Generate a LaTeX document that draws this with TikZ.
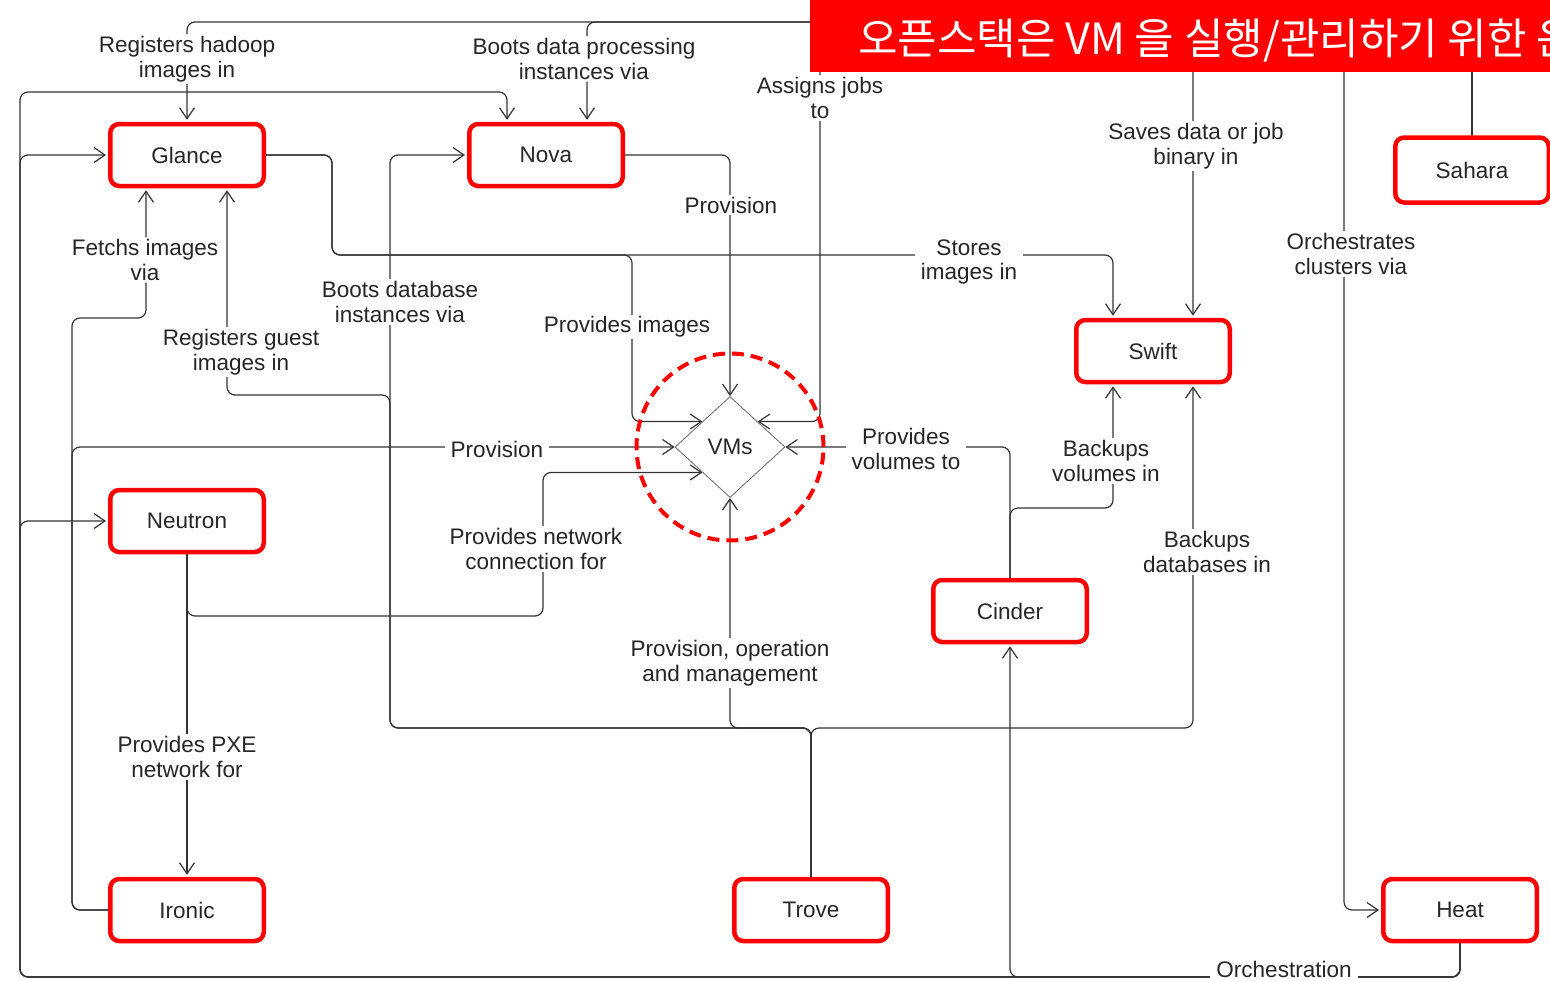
\documentclass[tikz,border=0pt]{standalone}
\usepackage{fontspec}
\setmainfont{Liberation Sans}
\newfontfamily\cjk{Noto Sans CJK KR}
\usetikzlibrary{arrows.meta,shapes.geometric}
\pgfdeclarelayer{bg}
\pgfsetlayers{bg,main}
\begin{document}
\begin{tikzpicture}[x=1pt,y=-1pt,
  box/.style={draw=red, line width=4.5pt, rounded corners=9pt, fill=white,
    minimum width=153.5pt, minimum height=62pt, inner sep=0pt,
    font=\fontsize{22.5}{26}\selectfont, text=black!85},
  conn/.style={draw=black!80, line width=1.2pt, rounded corners=8pt},
  arr/.style={conn, -{Straight Barb[length=11pt,width=15pt]}, shorten >=2pt},
  arrd/.style={conn, -{Straight Barb[length=11pt,width=15pt]}},
  lbl/.style={fill=white, align=center, inner xsep=6pt, inner ysep=2pt,
    font=\fontsize{22.5}{24.5}\selectfont, text=black!85}]
\useasboundingbox (0,0) rectangle (1550,980);

% nodes
\node[box] (glance)  at (187,155) {Glance};
\node[box] (nova)    at (546,155) {Nova};
\node[box] (neutron) at (187,521) {Neutron};
\node[box] (ironic)  at (187,910) {Ironic};
\node[box] (trove)   at (811,910) {Trove};
\node[box] (cinder)  at (1010,611) {Cinder};
\node[box] (swift)   at (1153,351) {Swift};
\node[box, minimum height=65pt] (sahara)  at (1472,170) {Sahara};
\node[box] (heat)    at (1460,910) {Heat};
\node[diamond, draw=black!60, line width=0.8pt, minimum width=110pt,
  minimum height=101pt, inner sep=0pt, font=\fontsize{22.5}{26}\selectfont,
  text=black!85] (vms) at (730,447) {VMs};
\node[circle, draw=red, line width=4pt, dash pattern=on 12pt off 7pt,
  minimum size=187pt, inner sep=0pt] (ring) at (730,447) {};

\begin{pgfonlayer}{bg}
% Sahara
\draw[arr] (sahara.north) |- (187,22) -- (glance.north);
\draw[arr] (sahara.north) |- (587,22) -- ([xshift=41pt]nova.north);
\draw[arrd] (sahara.north) |- (820,22) |- (vms.north east);
\draw[arr] (sahara.north) |- (1193,22) -- ([xshift=40pt]swift.north);
\draw[arr] (sahara.north) |- (1344,22) |- (heat.west);
% Glance
\draw[arr] (glance.east) -| (332,255) -| ([xshift=-40pt]swift.north);
\draw[arrd] (glance.east) -| (332,255) -- (632,255) |- (vms.north west);
% Nova
\draw[arrd] (nova.east) -| (vms.north);
% Ironic
\draw[arr] (ironic.west) -| (72,318) -| ([xshift=-41pt]glance.south);
\draw[arrd] (ironic.west) -| (72,447) -- (vms.west);
% Neutron
\draw[arr] (neutron.south) -- (ironic.north);
\draw[arrd] (neutron.south) |- (543,616) |- (vms.south west);
% Trove
\draw[arr] (trove.north) |- (390,728) |- (nova.west);
\draw[arr] (trove.north) |- (390,728) -- (390,395) -| ([xshift=40pt]glance.south);
\draw[arrd] (trove.north) |- (730,728) -- (vms.south);
\draw[arr] (trove.north) |- (1193,728) -- ([xshift=40pt]swift.south);
% Cinder
\draw[arrd] (cinder.north) |- (vms.east);
\draw[arr] (cinder.north) |- (1113,508) -- ([xshift=-40pt]swift.south);
% Heat
\draw[arr] (heat.south) |- (1010,977) -- (cinder.south);
\draw[arr] (heat.south) |- (20,977) |- (glance.west);
\draw[arr] (heat.south) |- (20,977) |- (neutron.west);
\draw[arr] (heat.south) |- (20,977) |- (507,92) -- ([xshift=-39pt]nova.north);
\end{pgfonlayer}

% labels
\node[lbl] (l1)  at (187,59)  {Registers hadoop\\images in};
\node[lbl] (l2)  at (584,59)  {Boots data processing\\instances via};
\node[lbl] (l3)  at (820,98)  {Assigns jobs\\to};
\node[lbl] (l4)  at (1196,146) {Saves data or job\\binary in};
\node[lbl] (l5)  at (1351,254) {Orchestrates\\clusters via};
\node[lbl] (l6)  at (731,205) {Provision};
\node[lbl] (l7)  at (969,262) {Stores\\images in};
\node[lbl] (l8)  at (145,260) {Fetchs images\\via};
\node[lbl] (l9)  at (400,302) {Boots database\\instances via};
\node[lbl] (l10) at (627,327) {Provides images};
\node[lbl] (l11) at (241,352) {Registers guest\\images in};
\node[lbl] (l12) at (497,449) {Provision};
\node[lbl] (l13) at (906,449) {Provides\\volumes to};
\node[lbl] (l14) at (1106,461) {Backups\\volumes in};
\node[lbl] (l15) at (536,549) {Provides network\\connection for};
\node[lbl] (l16) at (1207,552) {Backups\\databases in};
\node[lbl] (l17) at (730,663) {Provision, operation\\and management};
\node[lbl] (l18) at (187,757) {Provides PXE\\network for};
\node[lbl, inner ysep=1pt] (l19) at (1284,969) {Orchestration};

% title banner
\fill[red] (810,0) rectangle (1560,72);
\node[anchor=base west, inner sep=0pt, text=white,
  font=\cjk\fontsize{43}{43}\selectfont] (title) at (858,54)
  {오픈스택은 VM 을 실행/관리하기 위한 운};
\end{tikzpicture}
\end{document}
